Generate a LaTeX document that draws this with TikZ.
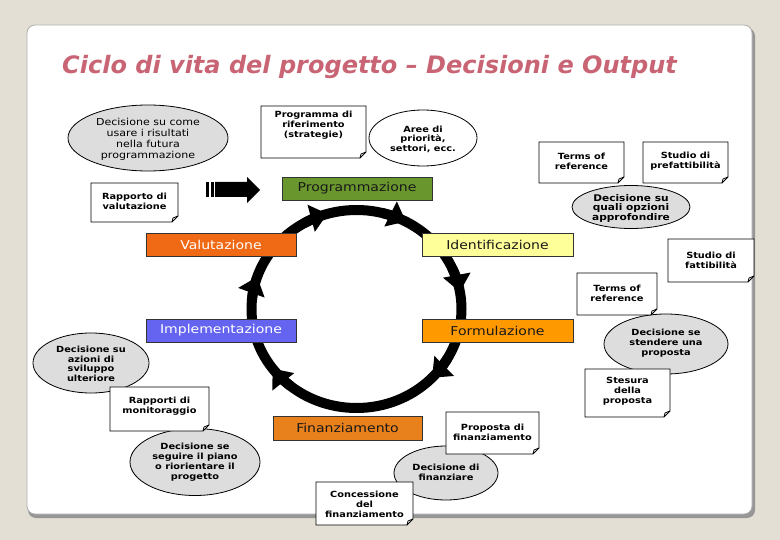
\documentclass[tikz,border=0pt]{standalone}
\usepackage{fontspec}
\usetikzlibrary{shapes.geometric,arrows.meta,calc}
\newfontfamily\tah[FakeStretch=1.15]{DejaVu Sans}
\newfontfamily\ttl{DejaVu Sans}
\definecolor{bgc}{RGB}{228,223,212}
\definecolor{shadowc}{RGB}{150,150,150}
\definecolor{cardline}{RGB}{175,175,175}
\definecolor{titlec}{RGB}{200,100,115}
\definecolor{ellgray}{RGB}{221,221,221}
\definecolor{cgreen}{RGB}{105,150,45}
\definecolor{cvalut}{RGB}{240,105,20}
\definecolor{cident}{RGB}{255,255,153}
\definecolor{cimpl}{RGB}{100,100,240}
\definecolor{cform}{RGB}{255,153,0}
\definecolor{cfin}{RGB}{232,128,28}
\tikzset{
  notetext/.style={font=\tah\bfseries\fontsize{8.5}{10}\selectfont, align=center, inner sep=0pt},
  notebox/.style={draw=black, fill=white, line width=0.8pt, line join=miter},
  ell/.style={ellipse, draw=black, line width=0.8pt, fill=ellgray, inner sep=0pt},
  phase/.style={draw=black!80, line width=0.7pt, inner sep=0pt, minimum height=23pt,
    font=\tah\fontsize{12.2}{14}\selectfont},
  ring/.style={line width=10pt, black},
  ringhead/.style={line width=10pt, black, -{Triangle[width=27pt,length=17pt]}},
}
\newcommand{\notebox}[7]{%
  \filldraw[notebox] (#2,#3) -- (#4,#3) -- (#4,#5-6) -- (#4-6,#5) -- (#2,#5) -- cycle;
  \draw[notebox, fill=none] (#4,#5-6) -- (#4-5,#5-4) -- (#4-6,#5);
  \node[notetext] (#1) at ({(#2+#4)/2},#7) {#6};
}
\newcommand{\ringtip}[1]{%
  \draw[ringhead] ({356.5+105*cos(#1-14)},{309+99*sin(#1-14)})
    arc[start angle=#1-14, end angle=#1, x radius=105, y radius=99];
}
\begin{document}
\begin{tikzpicture}[x=1pt,y=-1pt]
\useasboundingbox (0,0) rectangle (780,540);
\fill[bgc] (0,0) rectangle (780,540);
% card
\fill[shadowc, rounded corners=8pt] (28,28) rectangle (755,518);
\filldraw[fill=white, draw=cardline, line width=0.8pt, rounded corners=8pt] (27,25) rectangle (752,514);
% title
\node[anchor=base west, inner sep=0pt, text=titlec,
  font=\ttl\bfseries\itshape\fontsize{24}{28}\selectfont] (title) at (62,74)
  {Ciclo di vita del progetto – Decisioni e Output};

% cycle ring
\draw[ring] (356.5,309) ellipse [x radius=105, y radius=99];
\ringtip{254}
\ringtip{298}
\ringtip{350}
\ringtip{404}
\ringtip{503}
\ringtip{559}

% block arrow
\fill[black] (206,182) rectangle (209,197);
\fill[black] (211,182) rectangle (214,197);
\fill[black] (215,182) -- (247,182) -- (247,177) -- (260,190) -- (247,203) -- (247,197) -- (215,197) -- cycle;

% phase boxes
\node[phase, fill=cgreen, minimum width=150pt, text=black!90] (prog) at (357,188.5) {Programmazione};
\node[phase, fill=cvalut, minimum width=150pt, text=white] (val) at (221,244.5) {Valutazione};
\node[phase, fill=cident, minimum width=151pt, text=black!90] (ident) at (497.5,244.5) {Identificazione};
\node[phase, fill=cimpl, minimum width=150pt, text=white] (impl) at (221,330.5) {Implementazione};
\node[phase, fill=cform, minimum width=151pt, text=black!90] (form) at (497.5,330.5) {Formulazione};
\node[phase, fill=cfin, minimum width=149pt, minimum height=24pt, text=black!90] (fin) at (347.5,428) {Finanziamento};

% ellipses
\node[ell, minimum width=160pt, minimum height=66pt] (eUse) at (148,138) {};
\node[inner sep=0pt, align=center, font=\tah\fontsize{9.6}{11}\selectfont] (eUseT) at (148,139)
  {Decisione su come\\usare i risultati\\nella futura\\programmazione};
\node[ell, fill=white, minimum width=108pt, minimum height=56pt] (eAree) at (423,138) {};
\node[notetext, font=\tah\bfseries\fontsize{8.5}{9.5}\selectfont] (eAreeT) at (423,139) {Aree di\\priorità,\\settori, ecc.};
\node[ell, minimum width=118pt, minimum height=43pt] (eOpz) at (631,207) {};
\node[notetext, font=\tah\bfseries\fontsize{9.2}{9.5}\selectfont] (eOpzT) at (631,208) {Decisione su\\quali opzioni\\approfondire};
\node[ell, minimum width=124pt, minimum height=60pt] (eStend) at (666,344) {};
\node[notetext] (eStendT) at (666,343) {Decisione se\\stendere una\\proposta};
\node[ell, minimum width=104pt, minimum height=54pt] (eFin) at (446,473) {};
\node[notetext] (eFinT) at (446,472) {Decisione di\\finanziare};
\node[ell, minimum width=116pt, minimum height=60pt] (eSvil) at (91,363) {};
\node[notetext, font=\tah\bfseries\fontsize{8.5}{9.5}\selectfont] (eSvilT) at (91,364) {Decisione su\\azioni di\\sviluppo\\ulteriore};
\node[ell, minimum width=130pt, minimum height=67pt] (eSeg) at (195,462) {};
\node[notetext] (eSegT) at (195,462) {Decisione se\\seguire il piano\\o riorientare il\\progetto};

% notes
\notebox{nProg}{261}{106}{366}{158}{Programma di\\riferimento\\(strategie)}{125}
\notebox{nTor1}{539}{142}{624}{183}{Terms of\\reference}{161}
\notebox{nPref}{643}{142}{728}{183}{Studio di\\prefattibilità}{161}
\notebox{nRapVal}{91}{183}{178}{222}{Rapporto di\\valutazione}{201}
\notebox{nFatt}{668}{239}{754}{282}{Studio di\\fattibilità}{260}
\notebox{nTor2}{577}{273}{657}{315}{Terms of\\reference}{293}
\notebox{nStes}{585}{369}{670}{417}{Stesura\\della\\proposta}{391}
\notebox{nPropFin}{446}{412}{539}{454}{Proposta di\\finanziamento}{432}
\notebox{nConc}{316}{482}{413}{525}{Concessione\\del\\finanziamento}{504}
\notebox{nRapMon}{110}{387}{209}{431}{Rapporti di\\monitoraggio}{406}
\end{tikzpicture}
\end{document}
